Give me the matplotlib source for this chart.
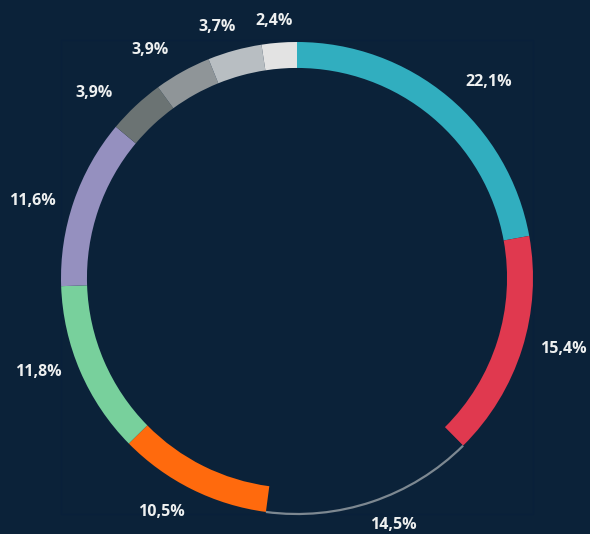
import numpy as np
import matplotlib.pyplot as plt
from matplotlib.patches import Arc, Rectangle

# share of each segment, clockwise from 12 o'clock
shares = [22.1, 15.4, 14.5, 10.5, 11.8, 11.6, 3.9, 3.9, 3.7, 2.4]
colors = ['#31aebf', '#e0394f', '#0b2239', '#ff6a0d', '#78d09c',
          '#9590bf', '#6b7373', '#8f9598', '#b8bec2', '#e3e3e3']
outlined = [False, False, True, False, False, False, False, False, False, False]

bg = '#0b2239'
plt.rcParams['font.family'] = ['Open Sans', 'DejaVu Sans']

fig = plt.figure(figsize=(5.9, 5.34), dpi=100, facecolor=bg)
ax = fig.add_axes([0, 0, 1, 1])
ax.set_facecolor(bg)

# ring centre at (297, 278) px, outer radius 236 px
scale = 236.0

wedges, _ = ax.pie(shares, colors=colors, startangle=90, counterclock=False,
                   radius=1.0, wedgeprops=dict(width=0.11, linewidth=0),
                   frame=True)
ax.set_aspect('auto')
ax.set_xlim(-297 / scale, (590 - 297) / scale)
ax.set_ylim(-(534 - 278) / scale, 278 / scale)
ax.axis('off')

# faint plot-area frame
ax.add_patch(Rectangle((-1.0, -1.0), 2.0, 2.01, fill=False, ec='#09203a', lw=0.8,
                       zorder=0))

for w, v, ol in zip(wedges, shares, outlined):
    if ol:
        ax.add_patch(Arc((0, 0), 2.0, 2.0, theta1=w.theta1, theta2=w.theta2,
                         color='#7d8891', lw=1.6))
    # angle measured clockwise from the top, spread a little away from vertical
    a = np.deg2rad(90 - (w.theta1 + w.theta2) / 2)
    a = a + np.deg2rad(4.5) * np.sin(2 * a)
    # pull labels in near the top and bottom edges so they stay on the canvas
    r = 1.168 - 0.075 * abs(np.cos(a)) ** 8
    ax.text(r * np.sin(a), r * np.cos(a), f"{v:.1f}".replace('.', ',') + '%',
            ha='center', va='center', color='#eef0f0', fontsize=11.5,
            fontweight='bold')

fig.savefig('out.png', dpi=100, facecolor=bg)
